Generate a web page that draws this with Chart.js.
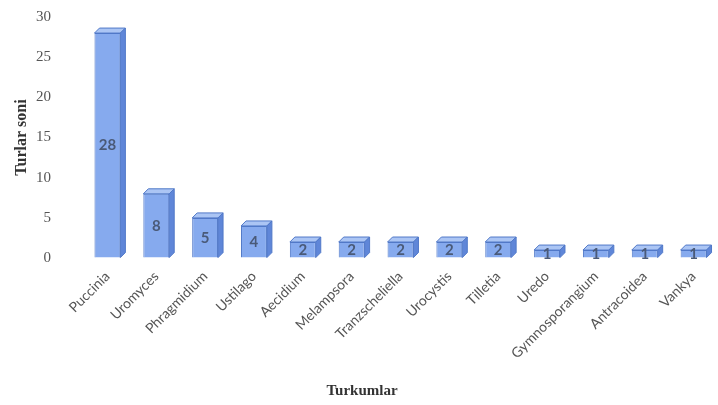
<!DOCTYPE html>
<html>
<head>
<meta charset="utf-8">
<style>
  html, body { margin: 0; padding: 0; background: #fff; overflow: hidden; }
  #wrap { width: 718px; height: 405px; }
</style>
</head>
<body>
<div id="wrap">
    <canvas id="myChart" width="718" height="405"></canvas>
</div>

<script src="https://cdn.jsdelivr.net/npm/chart.js@4.4.1/dist/chart.umd.min.js"></script>

<script>
    var categories = ['Puccinia', 'Uromyces', 'Phragmidium', 'Ustilago', 'Aecidium', 'Melampsora',
        'Tranzscheliella', 'Urocystis', 'Tilletia', 'Uredo', 'Gymnosporangium', 'Antracoidea', 'Vankya'];
    var speciesCount = [28, 8, 5, 4, 2, 2, 2, 2, 2, 1, 1, 1, 1];
    var yTicks = [0, 5, 10, 15, 20, 25, 30];

    // fake 3d faces + value labels drawn on top of the bars
    var boxPlugin = {
        id: 'boxPlugin',
        afterDatasetsDraw: function (chart) {
            var ctx = chart.ctx;
            var meta = chart.getDatasetMeta(0);
            var d = 5, dy = 5;
            meta.data.forEach(function (bar, i) {
                var l = bar.x - bar.width / 2;
                var r = bar.x + bar.width / 2;
                var t = bar.y, b = bar.base;
                ctx.save();
                ctx.lineWidth = 1;
                ctx.strokeStyle = '#5179c8';
                // top face
                ctx.beginPath();
                ctx.moveTo(l, t);
                ctx.lineTo(l + d, t - dy);
                ctx.lineTo(r + d, t - dy);
                ctx.lineTo(r, t);
                ctx.closePath();
                ctx.fillStyle = '#abc5f4';
                ctx.fill();
                ctx.stroke();
                // side face
                ctx.beginPath();
                ctx.moveTo(r, t);
                ctx.lineTo(r + d, t - dy);
                ctx.lineTo(r + d, b - dy);
                ctx.lineTo(r, b);
                ctx.closePath();
                ctx.fillStyle = '#5f86d8';
                ctx.fill();
                ctx.stroke();
                // label
                ctx.fillStyle = '#4a5a78';
                ctx.font = 'bold 15px Lato';
                ctx.textAlign = 'center';
                ctx.textBaseline = 'middle';
                ctx.fillText(String(speciesCount[i]), bar.x, (t + b) / 2);
                ctx.restore();
            });
            // x axis title
            ctx.save();
            ctx.fillStyle = '#333';
            ctx.font = 'bold 15px "Liberation Serif"';
            ctx.textAlign = 'center';
            ctx.textBaseline = 'middle';
            ctx.fillText('Turkumlar', 362, 391);
            ctx.restore();
        }
    };

    const ctx = document.getElementById('myChart');

    new Chart(ctx, {
        type: 'bar',
        data: {
            labels: categories,
            datasets: [{
                label: 'Turlar soni',
                data: speciesCount,
                backgroundColor: '#86aaee',
                borderColor: '#5179c8',
                borderWidth: 1,
                categoryPercentage: 1,
                barPercentage: 0.53
            }]
        },
        options: {
            responsive: false,
            animation: false,
            layout: { padding: { top: 17, right: -7, left: 0, bottom: 33 } },
            plugins: {
                legend: { display: false },
                tooltip: { enabled: false }
            },
            scales: {
                x: {
                    grid: { display: false, drawTicks: false },
                    border: { display: false },
                    ticks: {
                        minRotation: 45, maxRotation: 45,
                        padding: 10,
                        color: '#555',
                        font: { family: 'Lato', size: 14 }
                    }
                },
                y: {
                    min: 0, max: 30,
                    grid: {
                        display: true, drawOnChartArea: false, drawTicks: true,
                        tickLength: 28, color: 'rgba(0,0,0,0)'
                    },
                    border: { display: false },
                    afterBuildTicks: function (axis) {
                        axis.ticks = yTicks.map(function (v) { return { value: v }; });
                    },
                    afterFit: function (axis) { axis.width = 83; },
                    ticks: {
                        padding: 4,
                        color: '#555',
                        font: { family: 'Liberation Serif', size: 15 }
                    },
                    title: {
                        display: true,
                        text: 'Turlar soni',
                        color: '#333',
                        font: { family: 'Liberation Serif', size: 16, weight: 'bold' },
                        padding: { top: 12, bottom: 0 }
                    }
                }
            }
        },
        plugins: [boxPlugin]
    });
</script>
</body>
</html>
